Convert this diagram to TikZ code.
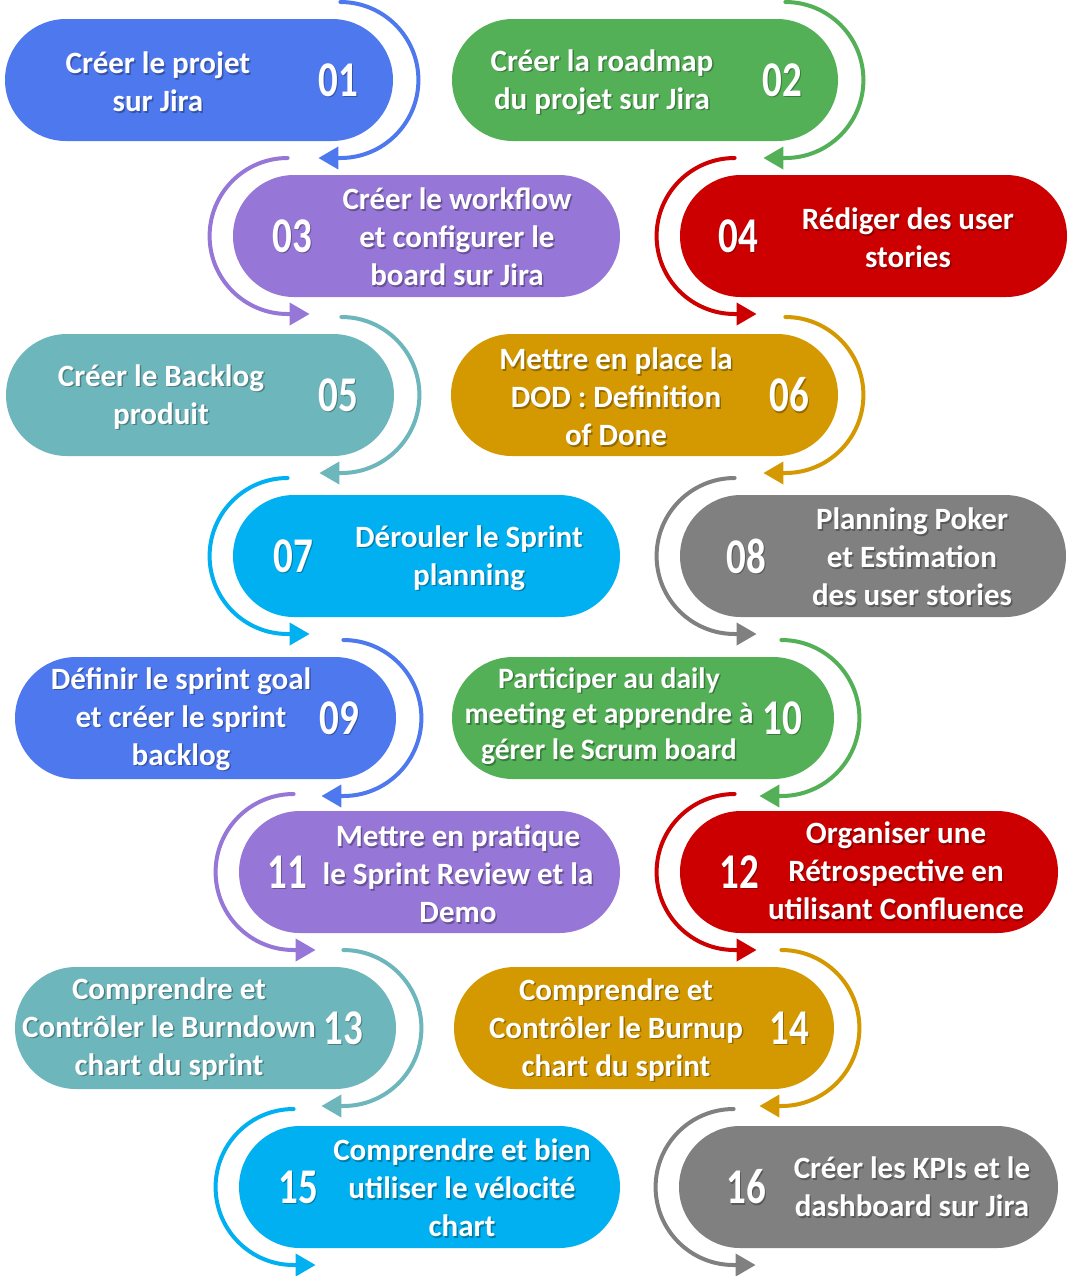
\documentclass[tikz,border=0pt]{standalone}
\usepackage{fontspec}
\setmainfont{Carlito}
\usepackage{xcolor}
\usepackage{tikz}
\usetikzlibrary{arrows.meta,calc}
\definecolor{cblue}{HTML}{4E78EE}
\definecolor{cgreen}{HTML}{54B056}
\definecolor{cpurple}{HTML}{9676D6}
\definecolor{cred}{HTML}{CC0000}
\definecolor{cteal}{HTML}{6DB6BC}
\definecolor{cgold}{HTML}{D49800}
\definecolor{ccyan}{HTML}{00B0F0}
\definecolor{cgray}{HTML}{808080}
% text with a light drop shadow
\newcommand{\lbl}[5]{%
  \node[#1,text=black,text opacity=0.3] at (#3+1.5,#4-1.5) {#5};
  \node[#1] (#2) at (#3,#4) {#5};}
\newcommand{\nb}[1]{\scalebox{0.78}[1]{#1}}

\begin{document}
\begin{tikzpicture}[x=0.5pt,y=0.5pt,line cap=round,line join=round,
    pill/.style={rectangle,rounded corners=30.5pt,minimum height=61pt,inner sep=0pt,fill=#1},
    flow/.style={draw=#1,line width=2pt,-{Triangle[length=10pt,width=11pt]}},
    lbl/.style={text=white,font=\fontsize{15.5}{19}\selectfont\bfseries,align=center,inner sep=0pt},
    lblsmall/.style={lbl,font=\fontsize{14.8}{17.8}\selectfont\bfseries},
    num/.style={text=white,font=\fontsize{25}{25}\selectfont\bfseries,inner sep=0pt}]
    \useasboundingbox (0,0) rectangle (1068,-1276);
    % pills
    \node[pill=cblue,minimum width=194pt] (p01) at (199,-80) {};
    \node[pill=cgreen,minimum width=193pt] (p02) at (645,-80) {};
    \node[pill=cpurple,minimum width=193.5pt] (p03) at (426.5,-236) {};
    \node[pill=cred,minimum width=193.5pt] (p04) at (873.5,-236) {};
    \node[pill=cteal,minimum width=194pt] (p05) at (200,-395) {};
    \node[pill=cgold,minimum width=193.5pt] (p06) at (644.5,-395) {};
    \node[pill=ccyan,minimum width=193.5pt] (p07) at (426.5,-556) {};
    \node[pill=cgray,minimum width=193pt] (p08) at (873,-556) {};
    \node[pill=cblue,minimum width=190.5pt] (p09) at (205.5,-718) {};
    \node[pill=cgreen,minimum width=191pt] (p10) at (643,-718) {};
    \node[pill=cpurple,minimum width=190.5pt] (p11) at (429.5,-872) {};
    \node[pill=cred,minimum width=189pt] (p12) at (869,-872) {};
    \node[pill=cteal,minimum width=190.5pt] (p13) at (205.5,-1028) {};
    \node[pill=cgold,minimum width=190pt] (p14) at (644,-1028) {};
    \node[pill=ccyan,minimum width=190.5pt] (p15) at (429.5,-1187) {};
    \node[pill=cgray,minimum width=189.5pt] (p16) at (868.5,-1187) {};
    % arcs on the right side
    \draw[flow=cblue] ($(p01.east)+(-53,78)$) arc[start angle=90,end angle=-90,radius=78] -- ++(-22,0);
    \draw[flow=cgreen] ($(p02.east)+(-53,78)$) arc[start angle=90,end angle=-90,radius=78] -- ++(-22,0);
    \draw[flow=cteal] ($(p05.east)+(-53,78)$) arc[start angle=90,end angle=-90,radius=78] -- ++(-22,0);
    \draw[flow=cgold] ($(p06.east)+(-53,78)$) arc[start angle=90,end angle=-90,radius=78] -- ++(-22,0);
    \draw[flow=cblue] ($(p09.east)+(-53,78)$) arc[start angle=90,end angle=-90,radius=78] -- ++(-22,0);
    \draw[flow=cgreen] ($(p10.east)+(-53,78)$) arc[start angle=90,end angle=-90,radius=78] -- ++(-22,0);
    \draw[flow=cteal] ($(p13.east)+(-53,78)$) arc[start angle=90,end angle=-90,radius=78] -- ++(-22,0);
    \draw[flow=cgold] ($(p14.east)+(-53,78)$) arc[start angle=90,end angle=-90,radius=78] -- ++(-22,0);
    % arcs on the left side
    \draw[flow=cpurple] ($(p03.west)+(55,78)$) arc[start angle=90,end angle=270,radius=78] -- ++(22,0);
    \draw[flow=cred] ($(p04.west)+(55,78)$) arc[start angle=90,end angle=270,radius=78] -- ++(22,0);
    \draw[flow=ccyan] ($(p07.west)+(55,78)$) arc[start angle=90,end angle=270,radius=78] -- ++(22,0);
    \draw[flow=cgray] ($(p08.west)+(55,78)$) arc[start angle=90,end angle=270,radius=78] -- ++(22,0);
    \draw[flow=cpurple] ($(p11.west)+(55,78)$) arc[start angle=90,end angle=270,radius=78] -- ++(22,0);
    \draw[flow=cred] ($(p12.west)+(55,78)$) arc[start angle=90,end angle=270,radius=78] -- ++(22,0);
    \draw[flow=ccyan] ($(p15.west)+(55,78)$) arc[start angle=90,end angle=270,radius=78] -- ++(22,0);
    \draw[flow=cgray] ($(p16.west)+(55,78)$) arc[start angle=90,end angle=270,radius=78] -- ++(22,0);
    % numbers
    \lbl{num}{n01}{338}{-80}{\nb{01}}
    \lbl{num}{n02}{782}{-80}{\nb{02}}
    \lbl{num}{n03}{292}{-236}{\nb{03}}
    \lbl{num}{n04}{738}{-236}{\nb{04}}
    \lbl{num}{n05}{338}{-395}{\nb{05}}
    \lbl{num}{n06}{789}{-395}{\nb{06}}
    \lbl{num}{n07}{293}{-556}{\nb{07}}
    \lbl{num}{n08}{746}{-556}{\nb{08}}
    \lbl{num}{n09}{339}{-718}{\nb{09}}
    \lbl{num}{n10}{782}{-718}{\nb{10}}
    \lbl{num}{n11}{287}{-872}{\nb{11}}
    \lbl{num}{n12}{739}{-872}{\nb{12}}
    \lbl{num}{n13}{343}{-1028}{\nb{13}}
    \lbl{num}{n14}{789}{-1028}{\nb{14}}
    \lbl{num}{n15}{298}{-1187}{\nb{15}}
    \lbl{num}{n16}{746}{-1187}{\nb{16}}
    % texts
    \lbl{lbl}{t01}{158}{-82}{Créer le projet\\sur Jira}
    \lbl{lbl}{t02}{602}{-82}{Créer la roadmap\\du projet sur Jira}
    \lbl{lbl}{t03}{457}{-237}{Créer le workflow\\et configurer le\\board sur Jira}
    \lbl{lbl}{t04}{908}{-238}{Rédiger des user\\stories}
    \lbl{lbl}{t05}{161}{-397}{Créer le Backlog\\produit}
    \lbl{lbl}{t06}{616}{-397}{Mettre en place la\\DOD : Definition\\of Done}
    \lbl{lbl}{t07}{469}{-558}{Dérouler le Sprint\\planning}
    \lbl{lbl}{t08}{912}{-557}{Planning Poker\\et Estimation\\des user stories}
    \lbl{lbl}{t09}{181}{-719}{Définir le sprint goal\\et créer le sprint\\backlog}
    \lbl{lblsmall}{t10}{609}{-716}{Participer au daily\\meeting et apprendre à\\gérer le Scrum board}
    \lbl{lbl}{t11}{458}{-874}{Mettre en pratique\\le Sprint Review et la\\Demo}
    \lbl{lbl}{t12}{896}{-871}{Organiser une\\Rétrospective en\\utilisant Confluence}
    \lbl{lbl}{t13}{169}{-1029}{Comprendre et\\Contrôler le Burndown\\chart du sprint}
    \lbl{lbl}{t14}{616}{-1030}{Comprendre et\\Contrôler le Burnup\\chart du sprint}
    \lbl{lbl}{t15}{462}{-1188}{Comprendre et bien\\utiliser le vélocité\\chart}
    \lbl{lbl}{t16}{912}{-1187}{Créer les KPIs et le\\dashboard sur Jira}
\end{tikzpicture}
\end{document}
